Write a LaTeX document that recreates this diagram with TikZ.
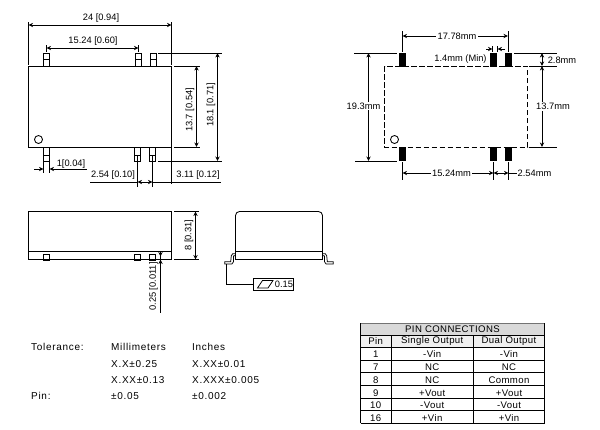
\documentclass[tikz,border=0pt]{standalone}
\usepackage{fontspec}
\setmainfont{Liberation Sans}
\newfontfamily\spaced[LetterSpace=7]{Liberation Sans}
\newfontfamily\cellfont[LetterSpace=4]{Liberation Sans}
\usetikzlibrary{arrows.meta}
\tikzset{
  x=1pt,y=-1pt,
  lin/.style={line width=0.85pt,black},
  thin line/.style={line width=0.75pt,black},
  dimline/.style={line width=0.75pt,black,{Stealth[length=4.5pt,width=4.2pt]}-{Stealth[length=4.5pt,width=4.2pt]}},
  endtip/.style={line width=0.75pt,black,-{Stealth[length=4.5pt,width=4.2pt]}},
  lbl/.style={inner sep=0.6pt,font=\fontsize{9.3}{10}\selectfont},
  wlbl/.style={lbl,fill=white,inner sep=1.2pt},
  vlbl/.style={lbl,rotate=90},
  tol/.style={anchor=west,inner sep=0,font=\fontsize{10}{11}\spaced},
  cell/.style={inner sep=0,font=\fontsize{9.6}{10}\cellfont},
  pad/.style={fill=black,draw=none},
  pin/.style={lin,fill=white},
}
\begin{document}
\begin{tikzpicture}
\useasboundingbox (0,0) rectangle (600,429);
% ---------- top-left: top view
\draw[lin] (28.5,66) rectangle (171.5,147);
\foreach \x in {43.5,135.5,150.5}{\draw[pin] (\x,53) rectangle ++(6,13); \draw[lin] (\x,59.5) -- ++(6,0);}
\foreach \x in {43.5,134.5,149.5}{\draw[pin] (\x,147) rectangle ++(6,14); \draw[lin] (\x,155) -- ++(6,0);}
\draw[lin] (38.5,139.5) circle (4);
% extension lines
\draw[thin line] (28.5,22) -- (28.5,65);
\draw[thin line] (171.5,22) -- (171.5,65);
\draw[thin line] (171.5,147) -- (171.5,184);
\draw[thin line] (46.5,45) -- (46.5,52);
\draw[thin line] (138.5,45) -- (138.5,52);
\draw[thin line] (158,53) -- (222,53);
\draw[thin line] (158,161) -- (222,161);
\draw[thin line] (174,66) -- (200,66);
\draw[thin line] (174,147) -- (200,147);
\draw[thin line] (43.5,161) -- (43.5,173);
\draw[thin line] (49.5,161) -- (49.5,173);
\draw[thin line] (137.5,155) -- (137.5,187);
\draw[thin line] (152.5,155) -- (152.5,187);
% dimensions
\draw[dimline] (28.5,25) -- (171.5,25);
\draw[dimline] (46.5,48) -- (138.5,48);
\draw[dimline] (217.5,53) -- (217.5,161);
\draw[dimline] (196.5,66) -- (196.5,147);
\draw[endtip] (34,169) -- (43.5,169);
\draw[endtip] (87,169) -- (49.5,169);
\draw[thin line] (90,182) -- (137.5,182);
\draw[dimline] (137.5,182) -- (152.5,182);
\draw[thin line] (152.5,182) -- (220.5,182);
\node[lbl] (t24) at (101,18.5) {24 [0.94]};
\node[lbl] (t1524) at (93,41.5) {15.24 [0.60]};
\node[vlbl] (t137) at (190,110) {13.7 [0.54]};
\node[vlbl] (t181) at (211,105) {18.1 [0.71]};
\node[lbl] (t1) at (71,164) {1[0.04]};
\node[lbl] (t254) at (113,175) {2.54 [0.10]};
\node[lbl] (t311) at (198,175) {3.11 [0.12]};
% ---------- top-right: footprint
\draw[lin,dash pattern=on 5.5pt off 2.5pt] (384.5,66) rectangle (527.5,147);
\foreach \x in {399,490,505}{\fill[pad] (\x,53) rectangle ++(7,13.5); \fill[pad] (\x,147) rectangle ++(7,14);}
\draw[lin] (394.5,139.5) circle (4);
\draw[thin line] (402.5,31) -- (402.5,52);
\draw[thin line] (508,31) -- (508,52);
\draw[thin line] (492.5,46) -- (492.5,52);
\draw[thin line] (497.5,46) -- (497.5,52);
\draw[thin line] (354,53) -- (397,53);
\draw[thin line] (355,161) -- (397,161);
\draw[thin line] (514,53) -- (557,53);
\draw[thin line] (529,66) -- (557,66);
\draw[thin line] (529,147) -- (557,147);
\draw[thin line] (402.5,162) -- (402.5,180);
\draw[thin line] (493.5,162) -- (493.5,180);
\draw[thin line] (508.5,162) -- (508.5,180);
\draw[dimline] (402.5,36) -- (508,36);
\draw[endtip] (486,49) -- (492.5,49);
\draw[endtip] (505,49) -- (497.5,49);
\draw[dimline] (368.5,53) -- (368.5,161);
\draw[dimline] (542,53) -- (542,66);
\draw[dimline] (542,66) -- (542,147);
\draw[dimline] (402.5,173) -- (493.5,173);
\draw[dimline] (493.5,173) -- (508.5,173);
\draw[thin line] (508.5,173) -- (517,173);
\node[wlbl] (r1778) at (457,36) {17.78mm};
\node[lbl] (r14) at (460.5,59) {1.4mm (Min)};
\node[wlbl] (r193) at (363.5,106) {19.3mm};
\node[lbl] (r28) at (562,60) {2.8mm};
\node[wlbl] (r137) at (553,106.5) {13.7mm};
\node[wlbl] (r1524) at (451.5,173) {15.24mm};
\node[lbl] (r254) at (534.5,173) {2.54mm};
% ---------- front view
\draw[lin] (28.5,211.5) rectangle (171.5,259.5);
\draw[lin] (28.5,251.5) -- (171.5,251.5);
\foreach \x in {43.5,134.5,149.5}{\draw[lin] (\x,254.5) rectangle ++(6,6);}
\draw[thin line] (174,211.5) -- (199,211.5);
\draw[thin line] (174,259.5) -- (199,259.5);
\draw[dimline] (195.5,211.5) -- (195.5,259.5);
\draw[thin line] (155,251.5) -- (160.5,251.5) -- (160.5,312.5);
\draw[endtip] (160.5,251.5) -- (160.5,256.5);
\draw[endtip] (160.5,266) -- (160.5,259.5);
\node[vlbl] (f8) at (189,235) {8 [0.31]};
\node[vlbl] (f025) at (153.5,286.5) {0.25 [0.011]};
% ---------- side view
\draw[lin] (235.5,259.5) -- (235.5,215.5) arc[start angle=180,end angle=270,radius=4] -- (318.5,211.5) arc[start angle=270,end angle=360,radius=4] -- (322.5,259.5) -- cycle;
\draw[lin] (235.5,251.5) -- (322.5,251.5);
\draw[thin line] (235.5,253.7) -- (232.7,253.7) -- (231.3,255.7) -- (230.7,261.7) -- (224.7,261.7) -- (224.7,263.9) -- (232,263.9) -- (233.5,261.7) -- (233.5,256) -- (235.5,255.5);
\draw[thin line] (322.5,253.7) -- (325.3,253.7) -- (326.7,255.7) -- (327.3,261.7) -- (333.3,261.7) -- (333.3,263.9) -- (326,263.9) -- (324.5,261.7) -- (324.5,256) -- (322.5,255.5);
\draw[thin line] (226.5,264) -- (226.5,284) -- (253.5,284);
\draw[lin] (253.5,278.5) rectangle (293.5,290.5);
\draw[thin line] (257.5,288) -- (262.5,280.5) -- (273,280.5) -- (268,288) -- cycle;
\node[lbl] (s015) at (284,284.5) {0.15};
% ---------- tolerances
\node[tol] (a1) at (31,347) {Tolerance:};
\node[tol] (a2) at (111,347) {Millimeters};
\node[tol] (a3) at (192,347) {Inches};
\node[tol] (b2) at (111,364) {X.X±0.25};
\node[tol] (b3) at (192,364) {X.XX±0.01};
\node[tol] (c2) at (111,380) {X.XX±0.13};
\node[tol] (c3) at (192,380) {X.XXX±0.005};
\node[tol] (d1) at (31,396) {Pin:};
\node[tol] (d2) at (111,396) {±0.05};
\node[tol] (d3) at (192,396) {±0.002};
% ---------- table
\fill[black!15] (360.5,323) rectangle (544.5,335);
\fill[black!6] (360.5,335) rectangle (544.5,347.6);
\foreach \y in {335,347.6,360.2,372.8,385.4,398,410.6,423.2}{\draw[lin] (360.5,\y) -- (544.5,\y);}
\draw[line width=0.85pt,black!55] (360.5,323) -- (544.5,323);
\draw[lin] (360.5,323) -- (360.5,423.2);
\draw[lin] (544.5,323) -- (544.5,423.2);
\draw[lin] (391,335) -- (391,423.2);
\draw[lin] (473.5,335) -- (473.5,423.2);
\node[cell] (h) at (452.5,329) {PIN CONNECTIONS};
\node[cell] (h1) at (375.7,341.5) {Pin};
\node[cell] (h2) at (432.2,341.5) {Single Output};
\node[cell] (h3) at (509,341.5) {Dual Output};
\node[cell] (p1) at (375.7,354) {1};
\node[cell] (s1) at (432.2,354) {-Vin};
\node[cell] (d1x) at (509,354) {-Vin};
\node[cell] (p7) at (375.7,367) {7};
\node[cell] (s7) at (432.2,367) {NC};
\node[cell] (d7) at (509,367) {NC};
\node[cell] (p8) at (375.7,380) {8};
\node[cell] (s8) at (432.2,380) {NC};
\node[cell] (d8) at (509,380) {Common};
\node[cell] (p9) at (375.7,393) {9};
\node[cell] (s9) at (432.2,393) {+Vout};
\node[cell] (d9) at (509,393) {+Vout};
\node[cell] (p10) at (375.7,405) {10};
\node[cell] (s10) at (432.2,405) {-Vout};
\node[cell] (d10) at (509,405) {-Vout};
\node[cell] (p16) at (375.7,418) {16};
\node[cell] (s16) at (432.2,418) {+Vin};
\node[cell] (d16) at (509,418) {+Vin};
\end{tikzpicture}
\end{document}
